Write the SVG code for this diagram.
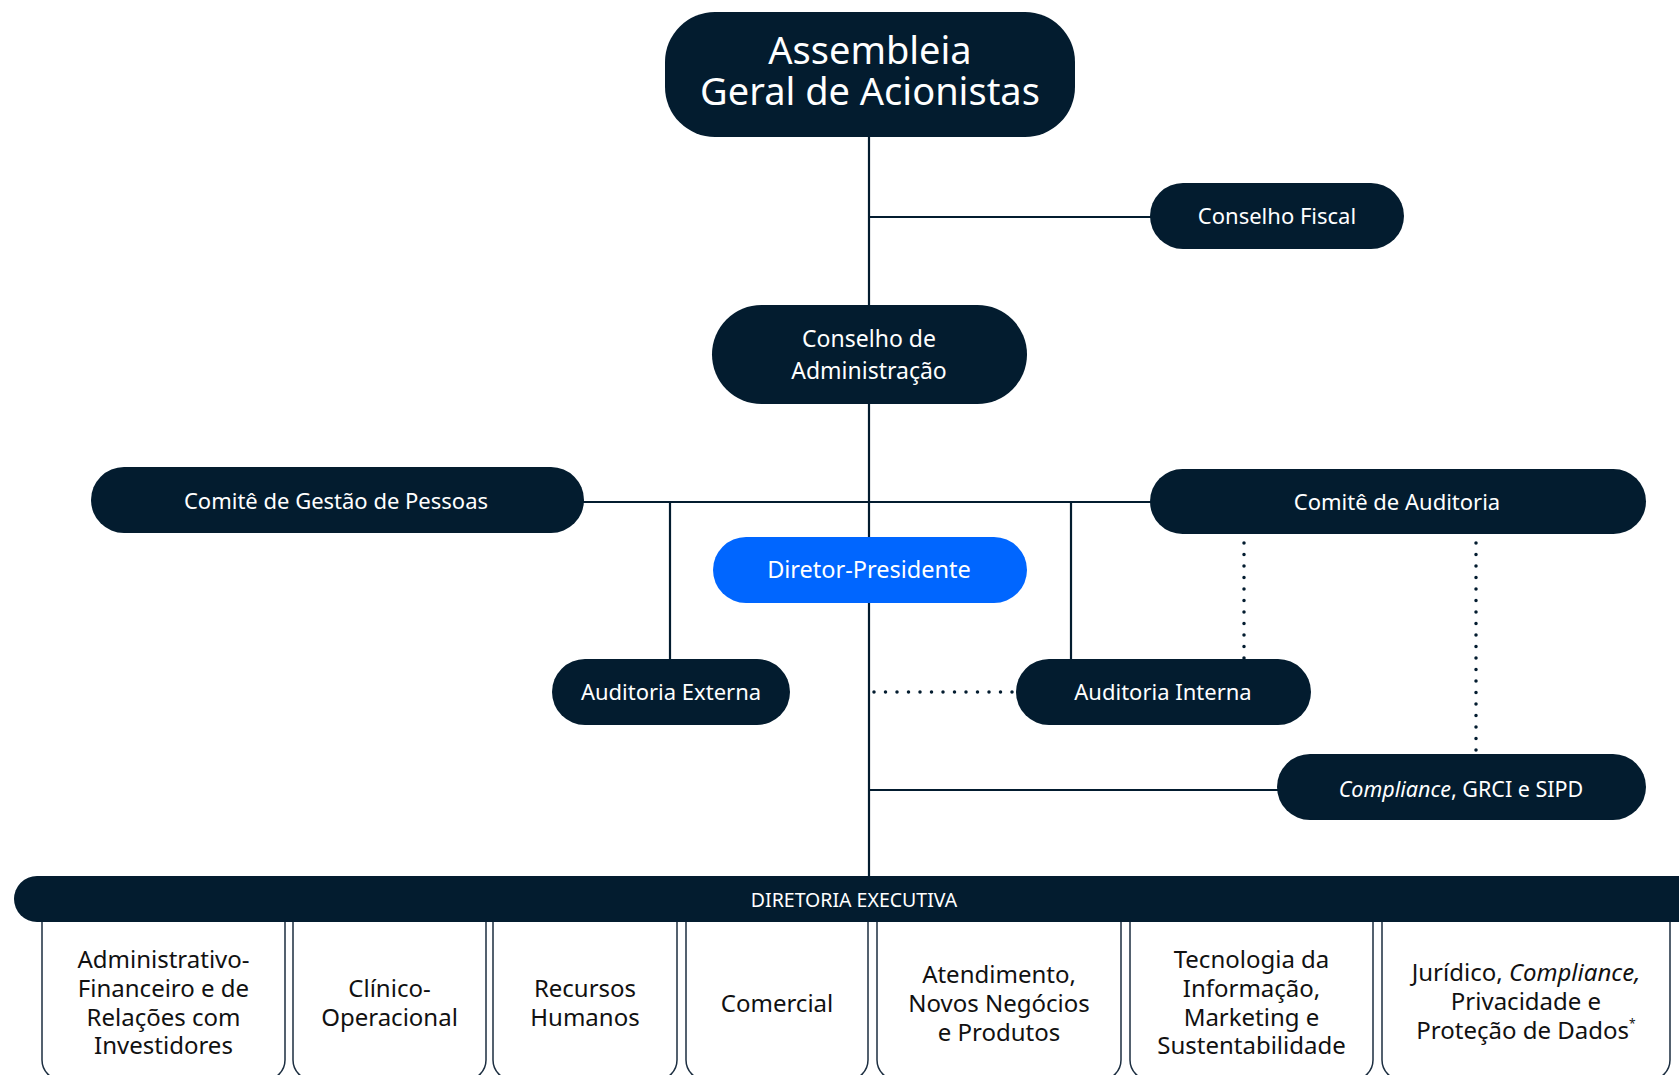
<svg xmlns="http://www.w3.org/2000/svg" width="1679" height="1075" viewBox="0 0 1679 1075">
<style>
.node{fill:#031c2f}
.blue{fill:#0066ff}
.t{font-family:"Noto Sans","Open Sans",sans-serif;fill:#ffffff;text-anchor:middle;font-size:22px}
.col{fill:#ffffff;stroke:#1c2e40;stroke-width:1.5}
.ct{font-family:"Noto Sans","Open Sans",sans-serif;fill:#111111;text-anchor:middle;font-size:24px}
.ln{stroke:#031c2f;stroke-width:2.2;fill:none}
.dot{stroke:#031c2f;stroke-width:3.5;fill:none;stroke-linecap:round;stroke-dasharray:0 11.5}
</style>
<rect width="1679" height="1075" fill="#ffffff"/>
<g id="connectors">
<line class="ln" x1="869" y1="130" x2="869" y2="880"/>
<line class="ln" x1="869" y1="217" x2="1152" y2="217"/>
<line class="ln" x1="580" y1="502" x2="1152" y2="502"/>
<line class="ln" x1="670" y1="502" x2="670" y2="662"/>
<line class="ln" x1="1071" y1="502" x2="1071" y2="662"/>
<line class="ln" x1="869" y1="790" x2="1280" y2="790"/>
<line class="dot" x1="874" y1="692" x2="1024" y2="692"/>
<line class="dot" x1="1244" y1="543" x2="1244" y2="664"/>
<line class="dot" x1="1476" y1="543" x2="1476" y2="756"/>
</g>
<g id="assembleia">
<rect class="node" x="665" y="12" width="410" height="125" rx="50"/>
<text class="t" style="font-size:38px"><tspan x="870" y="64">Assembleia</tspan><tspan x="870" y="105">Geral de Acionistas</tspan></text>
</g>
<g id="conselho-fiscal">
<rect class="node" x="1150" y="183" width="254" height="66" rx="33"/>
<text class="t" x="1277" y="224">Conselho Fiscal</text>
</g>
<g id="conselho-administracao">
<rect class="node" x="712" y="305" width="315" height="99" rx="49.5"/>
<text class="t" style="font-size:23px"><tspan x="869" y="347">Conselho de</tspan><tspan x="869" y="379">Administração</tspan></text>
</g>
<g id="comite-gestao-pessoas">
<rect class="node" x="91" y="467" width="493" height="66" rx="33"/>
<text class="t" x="336" y="509">Comitê de Gestão de Pessoas</text>
</g>
<g id="comite-auditoria">
<rect class="node" x="1150" y="469" width="496" height="65" rx="32.5"/>
<text class="t" x="1397" y="510">Comitê de Auditoria</text>
</g>
<g id="diretor-presidente">
<rect class="blue" x="713" y="537" width="314" height="66" rx="33"/>
<text class="t" x="869" y="578" style="font-size:23.5px">Diretor-Presidente</text>
</g>
<g id="auditoria-externa">
<rect class="node" x="552" y="659" width="238" height="66" rx="33"/>
<text class="t" x="671" y="700">Auditoria Externa</text>
</g>
<g id="auditoria-interna">
<rect class="node" x="1016" y="659" width="295" height="66" rx="33"/>
<text class="t" x="1163" y="700">Auditoria Interna</text>
</g>
<g id="compliance-grci-sipd">
<rect class="node" x="1277" y="754" width="369" height="66" rx="33"/>
<text class="t" x="1461" y="797" style="font-size:21.5px"><tspan font-style="italic">Compliance</tspan>, GRCI e SIPD</text>
</g>
<g id="dir-adm-fin">
<rect class="col" x="42" y="880" width="243" height="200" rx="20"/>
<text class="ct"><tspan x="163.5" y="968">Administrativo-</tspan><tspan x="163.5" y="997">Financeiro e de</tspan><tspan x="163.5" y="1026">Relações com</tspan><tspan x="163.5" y="1054">Investidores</tspan></text>
</g>
<g id="dir-clinico">
<rect class="col" x="293" y="880" width="193" height="200" rx="20"/>
<text class="ct"><tspan x="389.5" y="997">Clínico-</tspan><tspan x="389.5" y="1026">Operacional</tspan></text>
</g>
<g id="dir-rh">
<rect class="col" x="493" y="880" width="184" height="200" rx="20"/>
<text class="ct"><tspan x="585" y="997">Recursos</tspan><tspan x="585" y="1026">Humanos</tspan></text>
</g>
<g id="dir-comercial">
<rect class="col" x="686" y="880" width="182" height="200" rx="20"/>
<text class="ct" x="777" y="1012">Comercial</text>
</g>
<g id="dir-atendimento">
<rect class="col" x="877" y="880" width="244" height="200" rx="20"/>
<text class="ct"><tspan x="999" y="983">Atendimento,</tspan><tspan x="999" y="1012">Novos Negócios</tspan><tspan x="999" y="1041">e Produtos</tspan></text>
</g>
<g id="dir-ti">
<rect class="col" x="1130" y="880" width="243" height="200" rx="20"/>
<text class="ct"><tspan x="1251.5" y="968">Tecnologia da</tspan><tspan x="1251.5" y="997">Informação,</tspan><tspan x="1251.5" y="1026">Marketing e</tspan><tspan x="1251.5" y="1054">Sustentabilidade</tspan></text>
</g>
<g id="dir-juridico">
<rect class="col" x="1382" y="880" width="288" height="200" rx="20"/>
<text class="ct"><tspan x="1526" y="981">Jurídico, <tspan font-style="italic">Compliance,</tspan></tspan><tspan x="1526" y="1010">Privacidade e</tspan><tspan x="1526" y="1039">Proteção de Dados<tspan font-size="12px" dy="-11">*</tspan></tspan></text>
</g>
<g id="diretoria-executiva">
<rect class="node" x="14" y="876" width="1700" height="46" rx="23"/>
<text class="t" x="854" y="907" style="font-size:19.5px">DIRETORIA EXECUTIVA</text>
</g>
</svg>
